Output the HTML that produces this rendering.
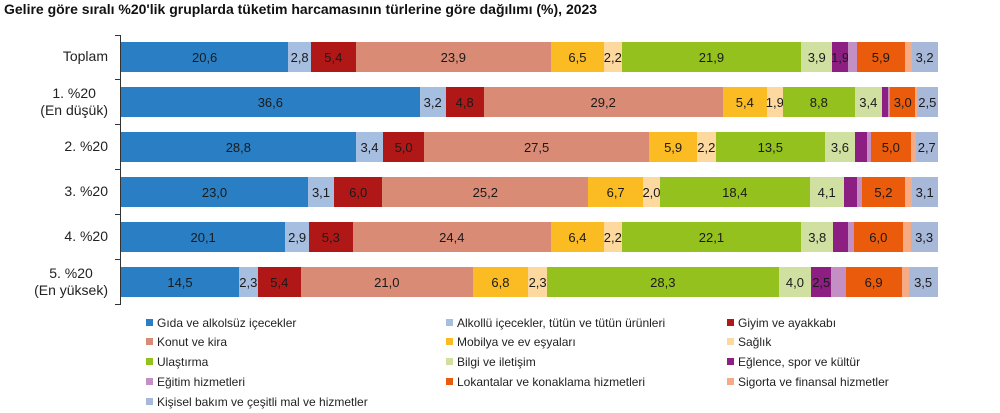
<!DOCTYPE html>
<html><head><meta charset="utf-8"><style>
*{margin:0;padding:0;box-sizing:border-box}
body{width:1000px;height:413px;background:#fff;font-family:"Liberation Sans",sans-serif;color:#1a1a1a;position:relative;overflow:hidden}
.t{position:absolute;left:4px;top:1px;font-size:14px;font-weight:bold;color:#111}
.ax{position:absolute;left:120px;top:35px;width:1px;height:270px;background:#333}
.tk{position:absolute;left:115px;width:5px;height:1px;background:#333}
.row{position:absolute;left:121px;height:30px;display:flex}
.row i{font-style:normal;flex-shrink:0;height:30px;display:flex;justify-content:center;align-items:center;font-size:13px;white-space:nowrap;color:#1a1a1a}
.lb{position:absolute;right:892px;text-align:center;font-size:14px;line-height:17px;color:#222;white-space:nowrap}
.lg{position:absolute;font-size:12px;color:#222;line-height:14px;white-space:nowrap}
.lg b{display:inline-block;width:7px;height:7px;margin-right:4px;vertical-align:1px}
</style></head><body>
<div class="t">Gelire göre sıralı %20'lik gruplarda tüketim harcamasının türlerine göre dağılımı (%), 2023</div>
<div class="ax"></div>
<div class="tk" style="top:35px"></div><div class="tk" style="top:79px"></div><div class="tk" style="top:124px"></div><div class="tk" style="top:169px"></div><div class="tk" style="top:214px"></div><div class="tk" style="top:259px"></div><div class="tk" style="top:304px"></div>

<div class="lb" style="top:48px">Toplam</div>
<div class="lb" style="top:85px">1. %20<br>(En düşük)</div>
<div class="lb" style="top:138px">2. %20</div>
<div class="lb" style="top:183px">3. %20</div>
<div class="lb" style="top:228px">4. %20</div>
<div class="lb" style="top:265px">5. %20<br>(En yüksek)</div>

<div class="row" style="top:42px">
<i style="width:167.3px;background:#2a7fc4">20,6</i><i style="width:22.7px;background:#a6bfe0">2,8</i><i style="width:44.7px;background:#b01818">5,4</i><i style="width:195.3px;background:#d98b75">23,9</i><i style="width:53px;background:#fbbb22">6,5</i><i style="width:17.7px;background:#fdd9a0">2,2</i><i style="width:179.6px;background:#95c11f">21,9</i><i style="width:31px;background:#cfe0a0">3,9</i><i style="width:15.7px;background:#8e1f82">1,9</i><i style="width:9px;background:#c48fc4"></i><i style="width:47.7px;background:#ea5b0c">5,9</i><i style="width:7px;background:#f6ab84"></i><i style="width:26px;background:#a8b8d8">3,2</i>
</div>
<div class="row" style="top:87px">
<i style="width:298.7px;background:#2a7fc4">36,6</i><i style="width:26px;background:#a6bfe0">3,2</i><i style="width:38px;background:#b01818">4,8</i><i style="width:239px;background:#d98b75">29,2</i><i style="width:44.3px;background:#fbbb22">5,4</i><i style="width:15.7px;background:#fdd9a0">1,9</i><i style="width:72.3px;background:#95c11f">8,8</i><i style="width:26.7px;background:#cfe0a0">3,4</i><i style="width:6.6px;background:#8e1f82"></i><i style="width:2px;background:#c48fc4"></i><i style="width:25px;background:#ea5b0c">3,0</i><i style="width:1.7px;background:#f6ab84"></i><i style="width:20.7px;background:#a8b8d8">2,5</i>
</div>
<div class="row" style="top:132px">
<i style="width:234.7px;background:#2a7fc4">28,8</i><i style="width:27.6px;background:#a6bfe0">3,4</i><i style="width:40.7px;background:#b01818">5,0</i><i style="width:225.3px;background:#d98b75">27,5</i><i style="width:47.7px;background:#fbbb22">5,9</i><i style="width:18.7px;background:#fdd9a0">2,2</i><i style="width:109.3px;background:#95c11f">13,5</i><i style="width:30px;background:#cfe0a0">3,6</i><i style="width:11.7px;background:#8e1f82"></i><i style="width:4px;background:#c48fc4"></i><i style="width:40.3px;background:#ea5b0c">5,0</i><i style="width:5px;background:#f6ab84"></i><i style="width:21.7px;background:#a8b8d8">2,7</i>
</div>
<div class="row" style="top:177px">
<i style="width:187px;background:#2a7fc4">23,0</i><i style="width:26px;background:#a6bfe0">3,1</i><i style="width:48.3px;background:#b01818">6,0</i><i style="width:206px;background:#d98b75">25,2</i><i style="width:54.7px;background:#fbbb22">6,7</i><i style="width:17px;background:#fdd9a0">2,0</i><i style="width:149.7px;background:#95c11f">18,4</i><i style="width:34px;background:#cfe0a0">4,1</i><i style="width:13.3px;background:#8e1f82"></i><i style="width:5.3px;background:#c48fc4"></i><i style="width:42.4px;background:#ea5b0c">5,2</i><i style="width:7px;background:#f6ab84"></i><i style="width:26px;background:#a8b8d8">3,1</i>
</div>
<div class="row" style="top:222px">
<i style="width:164.3px;background:#2a7fc4">20,1</i><i style="width:23.7px;background:#a6bfe0">2,9</i><i style="width:43.7px;background:#b01818">5,3</i><i style="width:198.3px;background:#d98b75">24,4</i><i style="width:53px;background:#fbbb22">6,4</i><i style="width:17.7px;background:#fdd9a0">2,2</i><i style="width:179.6px;background:#95c11f">22,1</i><i style="width:32px;background:#cfe0a0">3,8</i><i style="width:14.7px;background:#8e1f82"></i><i style="width:6px;background:#c48fc4"></i><i style="width:48.7px;background:#ea5b0c">6,0</i><i style="width:8px;background:#f6ab84"></i><i style="width:27px;background:#a8b8d8">3,3</i>
</div>
<div class="row" style="top:267px">
<i style="width:118px;background:#2a7fc4">14,5</i><i style="width:18.7px;background:#a6bfe0">2,3</i><i style="width:43.3px;background:#b01818">5,4</i><i style="width:171.7px;background:#d98b75">21,0</i><i style="width:55.6px;background:#fbbb22">6,8</i><i style="width:18.7px;background:#fdd9a0">2,3</i><i style="width:231.7px;background:#95c11f">28,3</i><i style="width:32.6px;background:#cfe0a0">4,0</i><i style="width:20px;background:#8e1f82">2,5</i><i style="width:14.4px;background:#c48fc4"></i><i style="width:56px;background:#ea5b0c">6,9</i><i style="width:7px;background:#f6ab84"></i><i style="width:29px;background:#a8b8d8">3,5</i>
</div>

<div class="lg" style="left:146px;top:316px"><b style="background:#2a7fc4"></b>Gıda ve alkolsüz içecekler</div>
<div class="lg" style="left:446px;top:316px"><b style="background:#a6bfe0"></b>Alkollü içecekler, tütün ve tütün ürünleri</div>
<div class="lg" style="left:727px;top:316px"><b style="background:#b01818"></b>Giyim ve ayakkabı</div>
<div class="lg" style="left:146px;top:335px"><b style="background:#d98b75"></b>Konut ve kira</div>
<div class="lg" style="left:446px;top:335px"><b style="background:#fbbb22"></b>Mobilya ve ev eşyaları</div>
<div class="lg" style="left:727px;top:335px"><b style="background:#fdd9a0"></b>Sağlık</div>
<div class="lg" style="left:146px;top:355px"><b style="background:#95c11f"></b>Ulaştırma</div>
<div class="lg" style="left:446px;top:355px"><b style="background:#cfe0a0"></b>Bilgi ve iletişim</div>
<div class="lg" style="left:727px;top:355px"><b style="background:#8e1f82"></b>Eğlence, spor ve kültür</div>
<div class="lg" style="left:146px;top:375px"><b style="background:#c48fc4"></b>Eğitim hizmetleri</div>
<div class="lg" style="left:446px;top:375px"><b style="background:#ea5b0c"></b>Lokantalar ve konaklama hizmetleri</div>
<div class="lg" style="left:727px;top:375px"><b style="background:#f6ab84"></b>Sigorta ve finansal hizmetler</div>
<div class="lg" style="left:146px;top:395px"><b style="background:#a8b8d8"></b>Kişisel bakım ve çeşitli mal ve hizmetler</div>
</body></html>
